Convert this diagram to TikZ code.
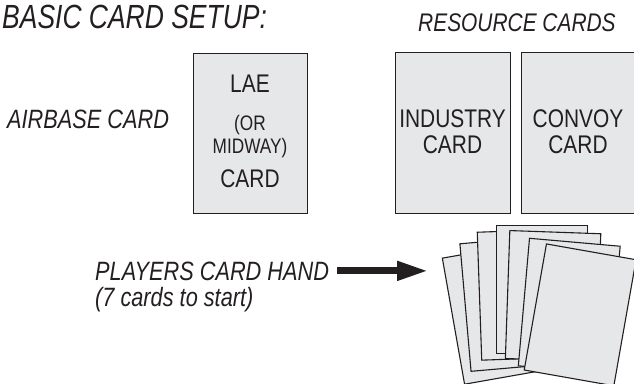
\documentclass[tikz,border=0pt]{standalone}
\usepackage{fontspec}
\setmainfont{Liberation Sans}[FakeStretch=0.82]
\newfontfamily\headingfont{Liberation Sans}[FakeStretch=0.79]
\usetikzlibrary{arrows.meta, positioning}
\usepackage{xcolor}
\definecolor{cardgray}{HTML}{E6E7E8}
\definecolor{inkblack}{HTML}{231F20}

\begin{document}
\begin{tikzpicture}[
        x=1pt, y=-1pt,
        every node/.style={text=inkblack, inner sep=0pt},
        heading/.style={
            font=\headingfont\fontsize{33.5}{40}\selectfont\itshape,
            anchor=base west
        },
        caption/.style={
            font=\fontsize{25.5}{30}\selectfont\itshape,
            anchor=base west
        },
        cardtext/.style={
            font=\fontsize{25.5}{30}\selectfont,
            anchor=base
        },
        smalltext/.style={
            font=\fontsize{21}{25}\selectfont,
            anchor=base
        },
        card/.style={
            rectangle,
            draw=inkblack,
            fill=cardgray,
            line width=1.1pt,
            minimum width=115pt,
            minimum height=161pt,
            anchor=north west
        },
        handcard/.style={
            rectangle,
            draw=inkblack,
            fill=cardgray,
            line width=1.1pt,
            minimum width=91pt,
            minimum height=128pt,
            anchor=north west
        },
        arrow/.style={
            -{Triangle[length=31pt, width=18pt]},
            line width=7pt,
            draw=inkblack
        }
    ]

    \path[use as bounding box] (0,0) rectangle (634,383);
    \clip (0,0) rectangle (634,383);

    % Headings
    \node[heading] (title) at (2,28) {BASIC CARD SETUP:};
    \node[caption] (resource) at (418,31.7) {RESOURCE CARDS};
    \node[caption, font=\fontsize{26.5}{30}\selectfont\itshape] (airbaselabel) at (7,128) {AIRBASE CARD};

    % Airbase card
    \node[card, minimum width=114pt, minimum height=160pt] (airbase) at (193,53) {};
    \node[cardtext] (lae) at (250,92) {LAE};
    \node[smalltext] (or) at (250,130.7) {(OR};
    \node[smalltext] (midway) at (250,153.3) {MIDWAY)};
    \node[cardtext] (airbasecard) at (250,187) {CARD};

    % Resource cards
    \node[card] (industry) at (395,52) {};
    \node[cardtext] (industryname) at (452.5,127) {INDUSTRY};
    \node[cardtext] (industrycard) at (452.5,153) {CARD};

    \node[card] (convoy) at (521,52) {};
    \node[cardtext] (convoyname) at (578,127) {CONVOY};
    \node[cardtext] (convoycard) at (578,153) {CARD};

    % Players hand
    \node[caption, font=\fontsize{26.5}{30}\selectfont\itshape] (players) at (95,280) {PLAYERS CARD HAND};
    \node[caption, font=\fontsize{26.5}{30}\selectfont\itshape] (start) at (95,306.7) {(7 cards to start)};

    \node[handcard, rotate=10] (hand1) at (441.7,257.7) {};
    \node[handcard, rotate=5] (hand2) at (459.3,243.3) {};
    \node[handcard, rotate=2] (hand3) at (476.7,231.7) {};
    \node[handcard] (hand4) at (495.7,225) {};
    \node[handcard, rotate=-2] (hand5) at (509.3,230) {};
    \node[handcard, rotate=-5] (hand6) at (529,237.7) {};
    \node[handcard, rotate=-10] (hand7) at (546,243.3) {};

    % Arrow to the hand
    \draw[arrow, shorten <=8pt, shorten >=13.5pt]
        (players.east) -- (players.east -| hand1.north west);

\end{tikzpicture}
\end{document}
